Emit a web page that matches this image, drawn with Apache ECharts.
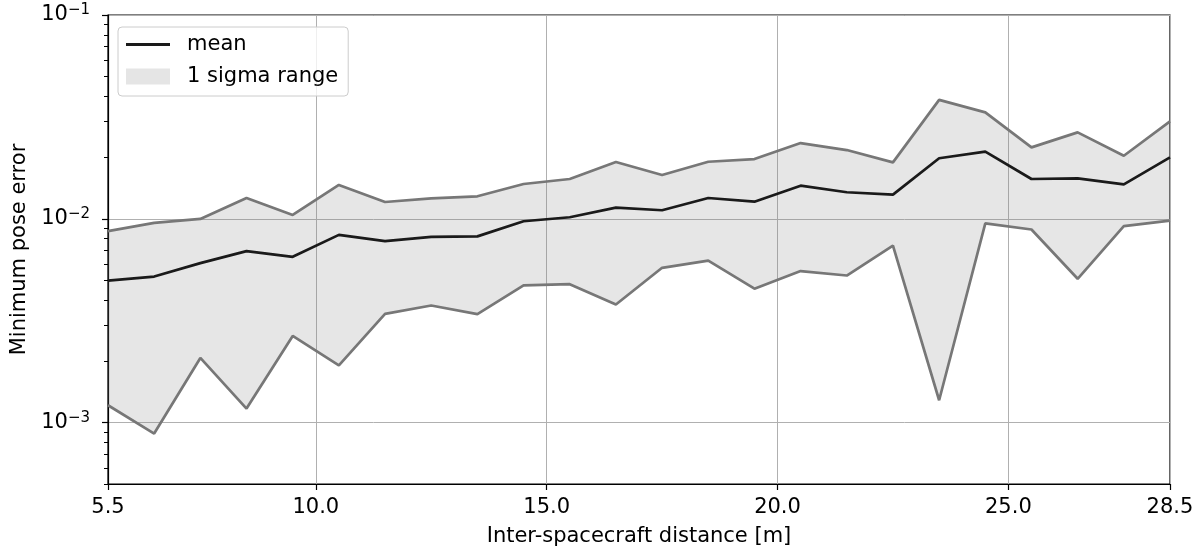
<!DOCTYPE html>
<html>
<head>
<meta charset="utf-8">
<title>Minimum pose error vs inter-spacecraft distance</title>
<script src="https://cdn.jsdelivr.net/npm/echarts@6/dist/echarts.min.js"></script>
<style>
  html, body { margin: 0; padding: 0; background: #ffffff; }
  #chart { width: 1198px; height: 552px; }
</style>
</head>
<body>
<div id="chart"></div>
<script>
// Inter-spacecraft distance [m]
const distance = [5.5, 6.5, 7.5, 8.5, 9.5, 10.5, 11.5, 12.5, 13.5, 14.5, 15.5, 16.5,
                  17.5, 18.5, 19.5, 20.5, 21.5, 22.5, 23.5, 24.5, 25.5, 26.5, 27.5, 28.5];

// Mean minimum pose error
const meanError = [0.00498, 0.00521, 0.00606, 0.00694, 0.00651, 0.00834, 0.00777, 0.00815,
                   0.00820, 0.00973, 0.01018, 0.01134, 0.01102, 0.01265, 0.01214, 0.01454,
                   0.01350, 0.01314, 0.01983, 0.02138, 0.01568, 0.01580, 0.01477, 0.02003];

// Upper edge of the 1 sigma range
const upperError = [0.00870, 0.00955, 0.00999, 0.01265, 0.01045, 0.01466, 0.01209, 0.01261,
                    0.01290, 0.01482, 0.01568, 0.01899, 0.01640, 0.01906, 0.01965, 0.02353,
                    0.02175, 0.01893, 0.03835, 0.03327, 0.02242, 0.02655, 0.02040, 0.03006];

// Lower edge of the 1 sigma range
const lowerError = [0.001217, 0.000884, 0.002077, 0.001172, 0.002662, 0.001910, 0.003420, 0.003757,
                    0.003410, 0.004710, 0.004780, 0.003800, 0.005750, 0.006240, 0.004540, 0.005540,
                    0.005270, 0.007390, 0.001288, 0.009500, 0.008860, 0.005080, 0.009200, 0.009800];

// Axis ticks
const xTicks = [5.5, 10, 15, 20, 25, 28.5];
const yMajorTicks = [0.001, 0.01, 0.1];
const yMinorTicks = [0.0005, 0.0006, 0.0007, 0.0008, 0.0009,
                     0.002, 0.003, 0.004, 0.005, 0.006, 0.007, 0.008, 0.009,
                     0.02, 0.03, 0.04, 0.05, 0.06, 0.07, 0.08, 0.09];

const pairs = (ys) => distance.map((x, i) => [x, ys[i]]);

const FONT = 'DejaVu Sans';
const FS = 21;
const GRID_COLOR = '#b0b0b0';
const EDGE_COLOR = '#777777';
const MEAN_COLOR = '#1a1a1a';
const LINE_W = 2.7;
const GRID_LEFT = 108, GRID_RIGHT = 28;
const CHART_W = 1198;

function powerLabel(v) {
  const p = Math.round(Math.log10(v));
  return '10{sup|' + (p < 0 ? '\u2212' + (-p) : p) + '}';
}

// Shaded band between the lower and upper edges, drawn as one polygon
function renderBand(params, api) {
  if (params.dataIndex !== 0) return null;
  const pts = [];
  for (let i = 0; i < distance.length; i++) pts.push(api.coord([distance[i], upperError[i]]));
  for (let i = distance.length - 1; i >= 0; i--) pts.push(api.coord([distance[i], lowerError[i]]));
  return {
    type: 'polygon',
    shape: { points: pts },
    style: { fill: 'rgba(128,128,128,0.2)', stroke: 'none' }
  };
}

const chart = echarts.init(document.getElementById('chart'), null, { renderer: 'canvas' });

chart.setOption({
  animation: false,
  backgroundColor: '#ffffff',
  textStyle: { fontFamily: FONT },
  grid: {
    left: GRID_LEFT, right: GRID_RIGHT, top: 15, bottom: 66,
    show: true, borderColor: '#000000', borderWidth: 1.2, backgroundColor: 'transparent',
    containLabel: false
  },
  legend: {
    left: 118, top: 27,
    orient: 'vertical',
    padding: [7, 10, 9, 8],
    itemGap: 11,
    itemWidth: 44,
    itemHeight: 16,
    backgroundColor: 'rgba(255,255,255,0.8)',
    borderColor: '#cccccc',
    borderWidth: 1,
    borderRadius: 4,
    textStyle: { fontFamily: FONT, fontSize: FS, color: '#000000', padding: [0, 0, 0, 12], lineHeight: 20 },
    data: [
      { name: 'mean', icon: 'path://M0,0H44V3H0Z', itemStyle: { color: MEAN_COLOR, borderWidth: 0 } },
      { name: '1 sigma range', icon: 'rect', itemStyle: { color: '#e5e5e5', borderWidth: 0 } }
    ]
  },
  xAxis: {
    type: 'value',
    min: 5.5, max: 28.5,
    name: 'Inter-spacecraft distance [m]',
    nameLocation: 'middle',
    nameGap: 42,
    nameTextStyle: { fontFamily: FONT, fontSize: FS, color: '#000000' },
    axisLine: { show: true, onZero: false, lineStyle: { color: '#000000', width: 1.2 } },
    axisTick: { show: true, length: 6, customValues: xTicks, lineStyle: { color: '#000000', width: 1.2 } },
    axisLabel: {
      customValues: xTicks, margin: 13, fontFamily: FONT, fontSize: FS, color: '#000000',
      formatter: (v) => v.toFixed(1)
    },
    splitLine: { show: true, lineStyle: { color: GRID_COLOR, width: 1 } }
  },
  yAxis: [
    {
      type: 'log', logBase: 10,
      min: 0.0005, max: 0.1,
      position: 'left',
      name: 'Minimum pose error',
      nameLocation: 'middle',
      nameGap: 71,
      nameTextStyle: { fontFamily: FONT, fontSize: FS, color: '#000000' },
      axisLine: { show: true, lineStyle: { color: '#000000', width: 1.2 } },
      axisTick: { show: true, length: 6, customValues: yMajorTicks, lineStyle: { color: '#000000', width: 1.2 } },
      axisLabel: {
        customValues: yMajorTicks, margin: 18, fontFamily: FONT, fontSize: FS, color: '#000000',
        formatter: powerLabel,
        rich: { sup: { fontFamily: FONT, fontSize: 15, color: '#000000', verticalAlign: 'bottom', padding: [0, 0, 9, 0] } }
      },
      splitLine: { show: true, lineStyle: { color: GRID_COLOR, width: 1 } }
    },
    {
      // minor ticks of the log axis, placed along the left spine
      type: 'log', logBase: 10,
      min: 0.0005, max: 0.1,
      position: 'right',
      offset: -(CHART_W - GRID_LEFT - GRID_RIGHT),
      axisLine: { show: false },
      axisTick: { show: true, inside: true, length: 4, customValues: yMinorTicks, lineStyle: { color: '#000000', width: 1 } },
      axisLabel: { show: false },
      splitLine: { show: false }
    }
  ],
  series: [
    {
      name: '1 sigma range',
      type: 'custom',
      renderItem: renderBand,
      data: [[distance[0], upperError[0]]],
      itemStyle: { color: '#e5e5e5' },
      silent: true,
      z: 2
    },
    {
      name: 'lower',
      type: 'line',
      data: pairs(lowerError),
      showSymbol: false, symbol: 'none',
      lineStyle: { color: EDGE_COLOR, width: LINE_W },
      itemStyle: { color: EDGE_COLOR },
      z: 3
    },
    {
      name: 'upper',
      type: 'line',
      data: pairs(upperError),
      showSymbol: false, symbol: 'none',
      lineStyle: { color: EDGE_COLOR, width: LINE_W },
      itemStyle: { color: EDGE_COLOR },
      z: 3
    },
    {
      name: 'mean',
      type: 'line',
      data: pairs(meanError),
      showSymbol: false, symbol: 'none',
      lineStyle: { color: MEAN_COLOR, width: LINE_W },
      itemStyle: { color: MEAN_COLOR },
      z: 4
    }
  ]
});
</script>
</body>
</html>
